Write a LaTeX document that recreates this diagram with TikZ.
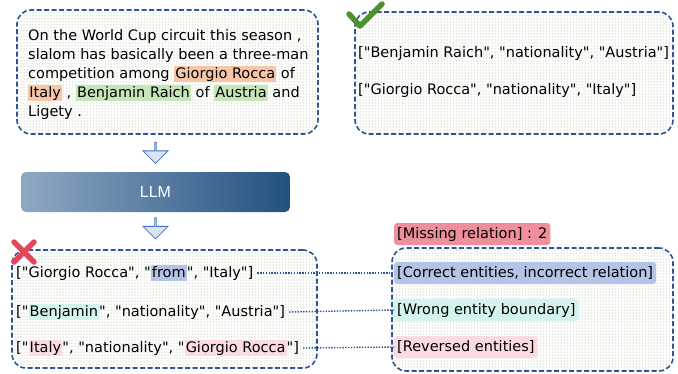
\documentclass[tikz,border=0pt]{standalone}
\usepackage{fontspec}
\setmainfont{DejaVu Sans}[Ligatures=TeXOff]
\newfontfamily\llmfont{Liberation Sans}
\usetikzlibrary{positioning,patterns,shapes.arrows}
\definecolor{boxblue}{HTML}{2F5597}
\definecolor{dotgreen}{HTML}{8FA67C}
\definecolor{arrowblue}{HTML}{4472C4}
\definecolor{arrowfill}{HTML}{DAE3F3}
\definecolor{llmlight}{HTML}{8FA9C4}
\definecolor{llmdark}{HTML}{22517F}
\definecolor{hlorange}{HTML}{F7C6A8}
\definecolor{hlgreen}{HTML}{C6E5B9}
\definecolor{hlblue}{HTML}{B4C3E6}
\definecolor{hlcyan}{HTML}{D3F4EE}
\definecolor{hlpink}{HTML}{FCDBE0}
\definecolor{missred}{HTML}{EE8F9B}
\definecolor{okgreen}{HTML}{4E8F2F}
\definecolor{badred}{HTML}{E2475B}
\newcommand{\hl}[2]{{\setlength{\fboxsep}{1.2pt}\colorbox{#1}{\vphantom{Ay}#2}}}
\tikzset{
    dotbox/.style={draw=boxblue, line width=1.6pt, dash pattern=on 5pt off 2.5pt,
                   rounded corners=14pt, pattern=dots, pattern color=dotgreen, inner sep=0pt},
    tripletext/.style={anchor=west, inner sep=0pt, font=\fontsize{14.5}{19}\selectfont},
    errlabel/.style={anchor=west, inner xsep=3pt, inner ysep=2pt, rounded corners=3pt,
                     font=\fontsize{14.5}{19}\selectfont, minimum height=22pt},
    downarr/.style={single arrow, shape border rotate=270, draw=arrowblue, fill=arrowfill,
                    line width=0.8pt, minimum height=21pt, minimum width=25pt,
                    single arrow head extend=6pt, inner sep=0pt},
    link/.style={draw=boxblue, line width=1.4pt, dash pattern=on 1.4pt off 1.4pt},
    }

\begin{document}
\begin{tikzpicture}[x=1pt,y=-1pt]
    \useasboundingbox (0,0) rectangle (678,373);

    % input sentence
    \node[dotbox, minimum width=301pt, minimum height=124pt] (src) at (167.5,72) {};
    \node[anchor=north west, inner sep=0pt, align=left,
          font=\fontsize{14.5}{19}\selectfont] (sent) at (28,29)
        {On the World Cup circuit this season ,\\
         slalom has basically been a three-man\\
         competition among \hl{hlorange}{Giorgio Rocca} of\\
         \hl{hlorange}{Italy} , \hl{hlgreen}{Benjamin Raich} of \hl{hlgreen}{Austria} and\\
         Ligety .};

    % gold triples
    \node[dotbox, minimum width=318pt, minimum height=122pt] (gold) at (514,73) {};
    \node[tripletext] (g1) at (358,53) {["Benjamin Raich", "nationality", "Austria"]};
    \node[tripletext] (g2) at (358,90) {["Giorgio Rocca", "nationality", "Italy"]};
    \draw[okgreen, line width=5.5pt, line cap=round, line join=round]
        (349,14) -- (360,26) -- (382,4);

    % model
    \node[downarr] (a1) at (155.5,152.5) {};
    \node[rounded corners=5pt, left color=llmlight, right color=llmdark,
          minimum width=269pt, minimum height=40pt, text=white,
          font=\llmfont\fontsize{16}{18}\selectfont] (llm) at (155.5,192) {LLM};
    \node[downarr] (a2) at (155.5,228) {};

    % predicted triples
    \node[dotbox, minimum width=305pt, minimum height=118pt] (pred) at (164.5,309) {};
    \node[tripletext] (p1) at (16,273) {["Giorgio Rocca", "\hl{hlblue}{from}", "Italy"]};
    \node[tripletext] (p2) at (16,312) {["\hl{hlcyan}{Benjamin}", "nationality", "Austria"]};
    \node[tripletext] (p3) at (16,348) {["\hl{hlpink}{Italy}", "nationality", "\hl{hlpink}{Giorgio Rocca}"]};
    \draw[badred, line width=5.5pt, line cap=round] (14,242) -- (34,262) (34,242) -- (14,262);

    % error types
    \node[dotbox, minimum width=281pt, minimum height=123pt] (err) at (532.5,309.5) {};
    \node[errlabel, fill=missred] (miss) at (394,234) {[Missing relation] : 2};
    \node[errlabel, fill=hlblue] (e1) at (394,273) {[Correct entities, incorrect relation]};
    \node[errlabel, fill=hlcyan] (e2) at (394,310) {[Wrong entity boundary]};
    \node[errlabel, fill=hlpink] (e3) at (394,347) {[Reversed entities]};

    \draw[link] (p1.east) ++(4,0) -- (e1.west);
    \draw[link] (p2.east) ++(4,0) -- (e2.west);
    \draw[link] (p3.east) ++(4,0) -- (e3.west);
\end{tikzpicture}
\end{document}
